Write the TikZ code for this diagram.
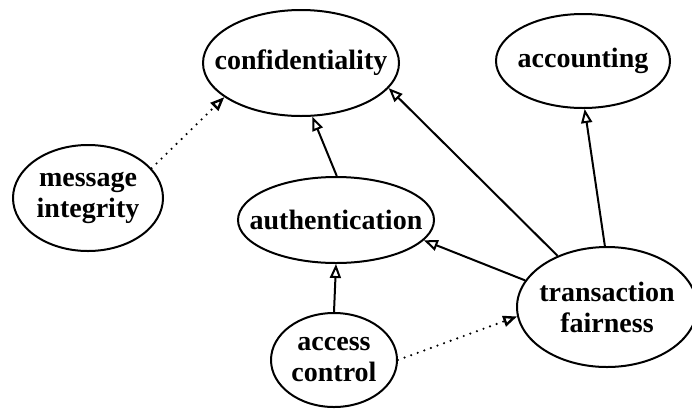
\documentclass[tikz,border=0pt]{standalone}
\usepackage{fontspec}
\setmainfont{Liberation Serif}
\usetikzlibrary{shapes.geometric,arrows.meta}

\begin{document}
\begin{tikzpicture}[x=1pt,y=-1pt,>={Triangle[open,length=14pt,width=11pt]},
	goal/.style={draw,ellipse,line width=2pt,inner sep=0pt},
	every label/.style={font=\fontsize{28}{31}\selectfont\bfseries,align=center,inner sep=0pt},
	link/.style={->,line width=2pt},
	weak/.style={->,line width=2.4pt,dash pattern=on 0pt off 7pt,line cap=round}]

\useasboundingbox (0,0) rectangle (692,408);

\node [goal,minimum width=196pt,minimum height=106pt,label={center:confidentiality}] (conf) at (301,63) {};
\node [goal,minimum width=174pt,minimum height=94pt,label={center:accounting}] (acct) at (583,61) {};
\node [goal,minimum width=150pt,minimum height=106pt,label={center:message\\integrity}] (mi) at (88,198) {};
\node [goal,minimum width=196pt,minimum height=86pt,label={center:authentication}] (auth) at (336,220) {};
\node [goal,minimum width=180pt,minimum height=120pt,label={center:transaction\\fairness}] (fair) at (607,307) {};
\node [goal,minimum width=126pt,minimum height=94pt,label={center:access\\control}] (acc) at (334,360) {};

\foreach \a/\b in {auth.89/conf.-78, fair.134/conf.-16, fair.92/acct.-88, fair.162/auth.-13, acc.90/auth.-90} {
	\draw [link] (\a) to (\b);
}

\draw [weak] (mi.25) to (conf.-156);
\draw [weak] (acc.0) to (fair.186);

\end{tikzpicture}
\end{document}
